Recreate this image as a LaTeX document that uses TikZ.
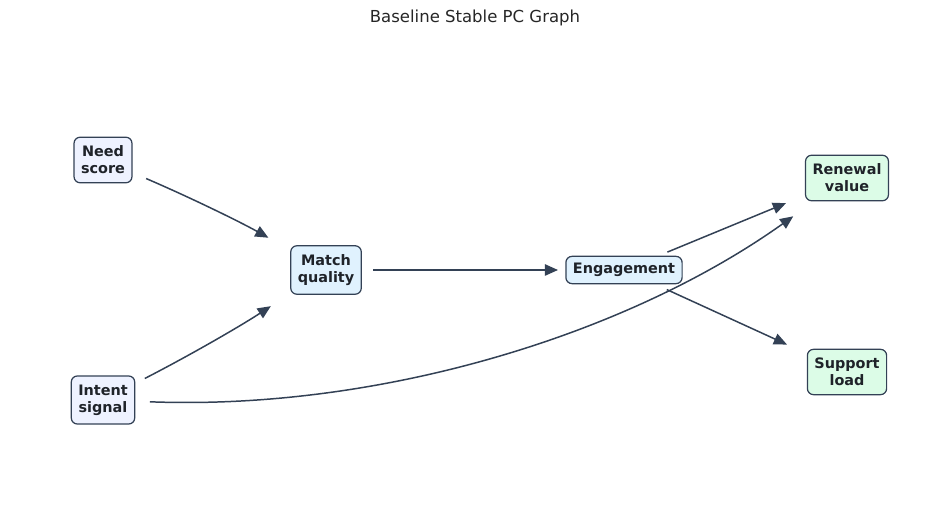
\documentclass[tikz,border=0pt]{standalone}
\usepackage{fontspec}
\setmainfont{DejaVu Sans}
\usetikzlibrary{arrows.meta}
\definecolor{edgecol}{HTML}{334155}
\definecolor{srcfill}{HTML}{EEF2FF}
\definecolor{midfill}{HTML}{E0F2FE}
\definecolor{outfill}{HTML}{DCFCE7}
\definecolor{txtcol}{HTML}{1F2329}

\begin{document}
\begin{tikzpicture}[
		box/.style={draw=edgecol,line width=0.7pt,rounded corners=3.5pt,align=center,
			inner xsep=4pt,inner ysep=5pt,text=txtcol,
			font=\bfseries\fontsize{8.2}{9.6}\selectfont},
		srcbox/.style={box,fill=srcfill},
		midbox/.style={box,fill=midfill},
		sinkbox/.style={box,fill=outfill},
		link/.style={-{Triangle[length=7.5pt,width=6.5pt]},edgecol,line width=0.85pt,
			shorten <=0.94cm,shorten >=1.32cm}]
		\useasboundingbox (0,0) rectangle (19,10.42);
		\node[text=black!85,font=\fontsize{9.4}{11}\selectfont] (title) at(9.5,10.06) {Baseline Stable PC Graph};
		
		\node[srcbox] (need) at(2.06,7.22) {Need\\score};
		\node[srcbox] (intent) at(2.06,2.42) {Intent\\signal};
		\node[midbox] (match) at(6.52,5.02) {Match\\quality};
		\node[midbox,inner ysep=3.9pt] (engage) at(12.48,5.02) {Engagement};
		\node[sinkbox] (renew) at(16.94,6.86) {Renewal\\value};
		\node[sinkbox] (support) at(16.94,2.98) {Support\\load};
		
		\draw[link] (need.center) to[bend left=3] (match.center);
		\draw[link] (intent.center) to[bend right=3] (match.center);
		\draw[link] (match.center) -- (engage.center);
		\draw[link] (engage.center) -- (renew.center);
		\draw[link] (engage.center) -- (support.center);
		% long edge bends under the middle row
		\draw[link] (intent.center) .. controls (7.53,2.21) and (12.49,3.69) .. (renew.center);
		\end{tikzpicture}
\end{document}
